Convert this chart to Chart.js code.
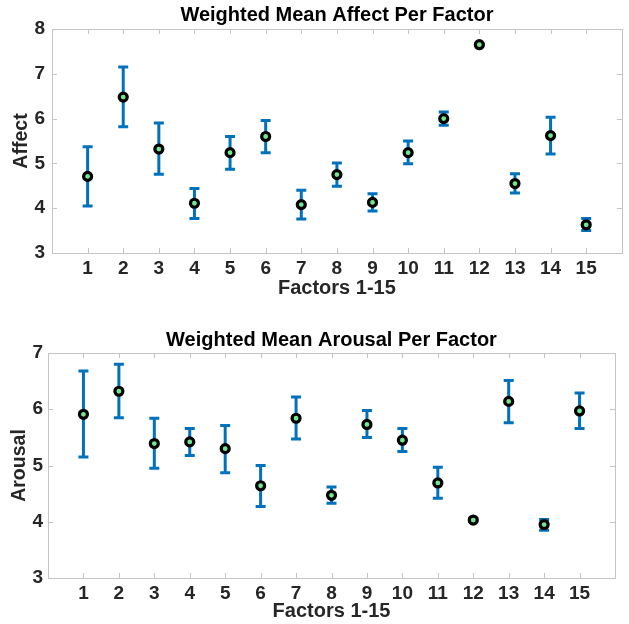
<!DOCTYPE html>
<html>
<head>
<meta charset="utf-8">
<script src="https://cdn.jsdelivr.net/npm/chart.js@4.4.1/dist/chart.umd.min.js"></script>
<style>
  html, body { margin: 0; padding: 0; background: #ffffff; }
  .wrap { position: relative; width: 629px; height: 312px; }
  canvas { display: block; }
</style>
</head>
<body>
<div class="wrap"><canvas id="c1" width="629" height="312"></canvas></div>
<div class="wrap"><canvas id="c2" width="629" height="312"></canvas></div>
<script>
// ---------- data ----------
const factors = [1, 2, 3, 4, 5, 6, 7, 8, 9, 10, 11, 12, 13, 14, 15];
const xTickLabels = ['1','2','3','4','5','6','7','8','9','10','11','12','13','14','15'];

const affectMean = [4.71, 6.48, 5.32, 4.11, 5.24, 5.60, 4.08, 4.75, 4.13, 5.24, 6.00, 7.65, 4.55, 5.62, 3.63];
const affectLow  = [4.05, 5.82, 4.76, 3.77, 4.87, 5.24, 3.76, 4.49, 3.94, 4.99, 5.85, 7.63, 4.34, 5.21, 3.50];
const affectHigh = [5.37, 7.15, 5.90, 4.44, 5.60, 5.96, 4.40, 5.01, 4.32, 5.50, 6.15, 7.67, 4.77, 6.03, 3.77];
const affectYTicks = [3, 4, 5, 6, 7, 8];

const arousalMean = [5.91, 6.32, 5.39, 5.42, 5.30, 4.64, 5.84, 4.47, 5.73, 5.45, 4.69, 4.03, 6.14, 3.95, 5.97];
const arousalLow  = [5.15, 5.85, 4.95, 5.18, 4.87, 4.27, 5.47, 4.33, 5.50, 5.25, 4.42, 4.01, 5.76, 3.85, 5.66];
const arousalHigh = [6.68, 6.80, 5.84, 5.66, 5.71, 5.00, 6.22, 4.62, 5.98, 5.66, 4.97, 4.05, 6.51, 4.04, 6.29];
const arousalYTicks = [3, 4, 5, 6, 7];

// ---------- styles ----------
const FONT = '"Liberation Sans", Arial, Helvetica, sans-serif';
const ERR_COLOR = '#0072BD';
const BOX_COLOR = '#c4c4c4';
const TEXT_COLOR = '#262626';

const errorBarPlugin = {
  id: 'errorBars',
  beforeDatasetsDraw(chart, args, opts) {
    const ctx = chart.ctx;
    const xs = chart.scales.x, ys = chart.scales.y;
    ctx.save();
    ctx.strokeStyle = ERR_COLOR;
    ctx.lineWidth = 3;
    ctx.lineCap = 'butt';
    opts.low.forEach((lo, i) => {
      const hi = opts.high[i];
      const px = xs.getPixelForValue(opts.x[i]);
      const pLo = ys.getPixelForValue(lo);
      const pHi = ys.getPixelForValue(hi);
      ctx.beginPath();
      ctx.moveTo(px, pLo); ctx.lineTo(px, pHi);
      ctx.moveTo(px - 5, pLo); ctx.lineTo(px + 5, pLo);
      ctx.moveTo(px - 5, pHi); ctx.lineTo(px + 5, pHi);
      ctx.stroke();
    });
    ctx.restore();
  }
};

const boxPlugin = {
  id: 'matBox',
  beforeDatasetsDraw(chart, args, opts) {
    const ctx = chart.ctx;
    const a = chart.chartArea;
    const xs = chart.scales.x, ys = chart.scales.y;
    ctx.save();
    ctx.strokeStyle = BOX_COLOR;
    ctx.lineWidth = 1;
    ctx.strokeRect(Math.round(a.left) + 0.5, Math.round(a.top) + 0.5,
                   Math.round(a.right - a.left), Math.round(a.bottom - a.top));
    ctx.beginPath();
    opts.xTicks.forEach(v => {
      const px = Math.round(xs.getPixelForValue(v)) + 0.5;
      ctx.moveTo(px, a.bottom); ctx.lineTo(px, a.bottom - 5);
      ctx.moveTo(px, a.top); ctx.lineTo(px, a.top + 5);
    });
    opts.yTicks.forEach(v => {
      const py = Math.round(ys.getPixelForValue(v)) + 0.5;
      ctx.moveTo(a.left, py); ctx.lineTo(a.left + 5, py);
      ctx.moveTo(a.right, py); ctx.lineTo(a.right - 5, py);
    });
    ctx.stroke();
    ctx.restore();
  }
};

function makeChart(id, cfg) {
  const pts = factors.map((f, i) => ({ x: f, y: cfg.mean[i] }));
  return new Chart(document.getElementById(id), {
    type: 'scatter',
    data: {
      datasets: [{
        data: pts,
        showLine: false,
        pointStyle: 'circle',
        pointRadius: 4,
        pointBorderWidth: 3.2,
        pointBorderColor: '#000000',
        pointBackgroundColor: '#72e892',
        pointHoverRadius: 4
      }]
    },
    plugins: [boxPlugin, errorBarPlugin],
    options: {
      responsive: false,
      animation: false,
      events: [],
      layout: { padding: { left: 0, right: cfg.padRight, top: 0, bottom: 0 } },
      plugins: {
        legend: { display: false },
        tooltip: { enabled: false },
        title: {
          display: true,
          text: cfg.title,
          color: '#000000',
          fullSize: false,
          font: { family: FONT, size: 20, weight: 'bold', lineHeight: 1.2 },
          padding: { top: cfg.titlePadTop, bottom: cfg.titlePadBottom }
        },
        errorBars: { x: factors, low: cfg.low, high: cfg.high },
        matBox: { xTicks: factors, yTicks: cfg.yTicks }
      },
      scales: {
        x: {
          type: 'linear',
          min: 0, max: 16,
          afterBuildTicks(scale) { scale.ticks = factors.map(v => ({ value: v })); },
          afterFit(scale) { scale.height = cfg.xAxisHeight; },
          grid: { display: false, drawTicks: false },
          border: { display: false },
          ticks: {
            color: TEXT_COLOR,
            padding: cfg.xTickPad,
            maxRotation: 0,
            autoSkip: false,
            font: { family: FONT, size: 19, weight: 'bold' },
            callback: (v) => xTickLabels[factors.indexOf(v)] || ''
          },
          title: {
            display: true,
            text: 'Factors 1-15',
            color: TEXT_COLOR,
            font: { family: FONT, size: 20, weight: 'bold', lineHeight: 1.2 },
            padding: { top: 0, bottom: cfg.xTitlePadBottom }
          }
        },
        y: {
          min: cfg.yTicks[0], max: cfg.yTicks[cfg.yTicks.length - 1],
          afterBuildTicks(scale) { scale.ticks = cfg.yTicks.map(v => ({ value: v })); },
          afterFit(scale) { scale.width = cfg.yAxisWidth; },
          grid: { display: false, drawTicks: false },
          border: { display: false },
          ticks: {
            color: TEXT_COLOR,
            padding: cfg.yTickPad,
            font: { family: FONT, size: 19, weight: 'bold' },
            callback: (v) => String(v)
          },
          title: {
            display: true,
            text: cfg.yTitle,
            color: TEXT_COLOR,
            font: { family: FONT, size: 19.5, weight: 'bold', lineHeight: 1.2 },
            padding: { top: cfg.yTitlePadTop, bottom: 0 }
          }
        }
      }
    }
  });
}

makeChart('c1', {
  title: 'Weighted Mean Affect Per Factor',
  yTitle: 'Affect',
  mean: affectMean, low: affectLow, high: affectHigh, yTicks: affectYTicks,
  padRight: 5, titlePadTop: 3, titlePadBottom: 2,
  xAxisHeight: 59, yAxisWidth: 52,
  xTickPad: 4, yTickPad: 7,
  xTitlePadBottom: 12, yTitlePadTop: 10.3
});

makeChart('c2', {
  title: 'Weighted Mean Arousal Per Factor',
  yTitle: 'Arousal',
  mean: arousalMean, low: arousalLow, high: arousalHigh, yTicks: arousalYTicks,
  padRight: 14, titlePadTop: 16, titlePadBottom: 1,
  xAxisHeight: 46, yAxisWidth: 48,
  xTickPad: 4, yTickPad: 5,
  xTitlePadBottom: 0.3, yTitlePadTop: 8.3
});
</script>
</body>
</html>
